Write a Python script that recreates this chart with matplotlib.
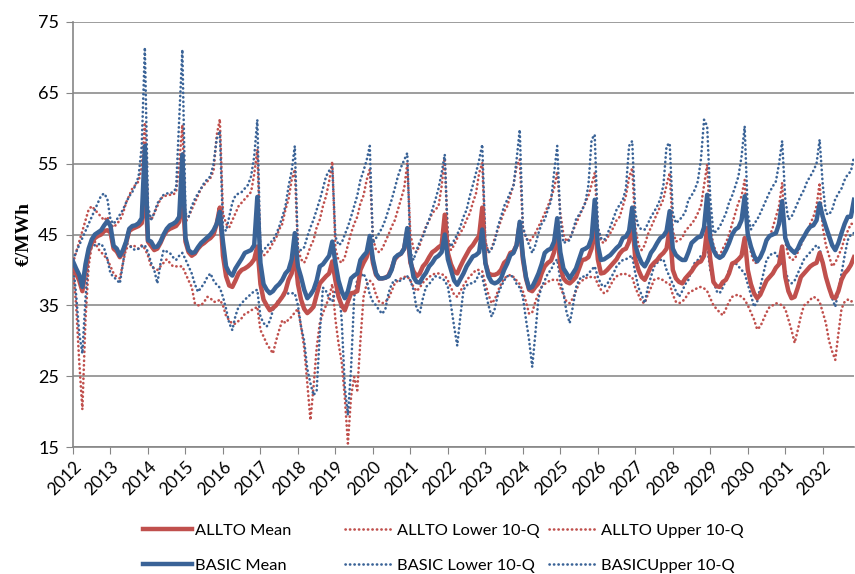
import matplotlib
matplotlib.use("Agg")
import matplotlib.pyplot as plt

# monthly values, Jan 2012 .. Nov 2032 (one row per year)
allto_mean = [
    40.5, 39.5, 38.5, 37.0, 40.0, 42.5, 43.8, 44.5, 44.8, 45.0, 45.5, 45.6,
    45.3, 43.0, 42.6, 41.8, 42.5, 43.8, 45.5, 45.8, 46.0, 46.2, 46.6, 52.0,
    44.0, 43.4, 42.8, 43.0, 43.8, 44.8, 45.5, 45.8, 46.0, 46.2, 46.8, 51.0,
    44.0, 42.5, 42.0, 42.3, 43.0, 43.5, 43.8, 44.2, 44.5, 45.0, 46.5, 48.8,
    42.0, 39.1, 37.8, 37.6, 38.5, 39.5, 40.0, 40.2, 40.5, 40.9, 41.5, 43.3,
    38.0, 35.8, 35.0, 34.3, 34.6, 35.0, 35.6, 36.2, 37.0, 38.6, 39.5, 42.5,
    38.0, 35.8, 34.5, 33.9, 34.3, 34.8, 36.5, 38.1, 38.6, 39.1, 39.5, 41.2,
    38.5, 36.2, 35.0, 34.3, 35.5, 36.7, 36.8, 37.0, 40.0, 41.0, 41.8, 44.2,
    41.0, 39.3, 38.8, 38.8, 38.9, 39.2, 40.2, 41.5, 42.0, 42.3, 43.0, 45.5,
    41.0, 39.8, 39.1, 39.5, 40.5, 41.0, 41.8, 42.5, 42.8, 43.2, 43.5, 47.8,
    42.4, 40.8, 39.8, 39.5, 40.5, 41.4, 42.2, 43.0, 43.5, 44.2, 44.8, 48.8,
    41.0, 39.5, 39.3, 39.3, 39.5, 40.0, 41.0, 41.4, 42.4, 42.6, 43.5, 46.5,
    41.5, 38.8, 37.2, 37.0, 37.6, 38.1, 39.5, 40.5, 41.0, 41.3, 42.5, 45.7,
    40.5, 38.8, 38.3, 38.1, 38.5, 39.0, 40.2, 41.4, 41.5, 41.8, 43.0, 47.1,
    41.5, 39.5, 39.6, 40.0, 40.5, 41.0, 41.5, 42.3, 42.8, 43.0, 44.0, 47.1,
    41.5, 40.0, 39.0, 38.6, 39.5, 40.5, 41.0, 41.4, 42.0, 42.4, 43.0, 45.9,
    40.0, 38.8, 38.3, 38.1, 38.8, 39.3, 39.8, 40.5, 41.0, 41.2, 42.0, 45.9,
    41.5, 38.3, 37.7, 37.6, 38.3, 38.6, 39.5, 40.9, 41.1, 41.5, 42.0, 44.5,
    40.0, 38.0, 36.7, 36.0, 36.5, 37.5, 38.5, 39.0, 39.5, 40.3, 40.8, 43.3,
    39.0, 37.0, 36.0, 36.2, 37.5, 39.0, 39.5, 40.0, 40.5, 40.8, 41.0, 42.4,
    41.0, 39.0, 37.5, 36.2, 36.0, 37.0, 38.6, 39.5, 40.0, 40.7, 41.8,
]
allto_lower = [
    40.0, 35.0, 27.0, 20.3, 33.0, 40.5, 43.5, 44.0, 43.0, 42.5, 42.0, 41.5,
    40.5, 39.5, 39.0, 38.8, 41.0, 43.0, 43.2, 43.5, 43.3, 43.0, 43.5, 43.0,
    42.0, 40.5, 40.2, 40.0, 40.5, 41.0, 41.5, 41.0, 40.5, 40.5, 40.5, 40.5,
    39.5, 38.5, 37.6, 35.3, 35.0, 35.0, 35.5, 36.2, 36.0, 35.5, 35.5, 35.8,
    35.0, 33.5, 32.9, 32.4, 32.4, 32.8, 33.2, 33.8, 34.0, 34.3, 34.5, 34.8,
    31.5, 30.6, 29.6, 28.9, 28.2, 30.0, 31.5, 32.9, 32.5, 33.0, 33.4, 34.0,
    34.5, 32.0, 29.0, 24.0, 18.8, 23.5, 29.0, 32.5, 33.9, 35.0, 36.2, 38.0,
    33.0, 29.6, 27.0, 22.0, 15.5, 22.1, 24.9, 23.0, 30.0, 36.2, 38.0, 38.5,
    38.0, 36.5, 35.5, 35.3, 35.5, 36.0, 37.0, 38.1, 38.5, 38.8, 39.0, 39.1,
    38.5, 37.6, 37.0, 37.5, 38.2, 38.6, 39.0, 39.3, 39.5, 39.5, 39.4, 39.2,
    38.5, 37.5, 36.5, 36.2, 37.0, 37.8, 38.5, 39.1, 39.5, 40.0, 40.0, 39.8,
    38.0, 36.5, 35.3, 35.8, 37.0, 38.0, 38.8, 39.1, 39.3, 39.0, 38.5, 38.0,
    37.0, 35.5, 33.8, 34.0, 35.5, 36.7, 37.6, 38.0, 38.3, 38.6, 38.6, 38.6,
    37.5, 36.5, 35.5, 35.3, 36.0, 37.0, 38.1, 38.5, 38.8, 39.0, 39.0, 39.0,
    38.0, 37.2, 36.7, 37.0, 37.8, 38.6, 39.1, 39.3, 39.5, 39.4, 39.2, 39.0,
    37.5, 36.5, 35.5, 35.3, 36.5, 37.5, 38.6, 38.8, 38.8, 38.5, 38.2, 38.0,
    36.5, 35.5, 35.3, 35.5, 36.0, 36.7, 37.0, 37.2, 37.5, 37.6, 37.4, 37.0,
    36.0, 35.0, 34.5, 34.0, 33.6, 34.5, 35.5, 36.2, 36.4, 36.5, 36.2, 35.8,
    35.0, 34.0, 33.0, 31.6, 32.0, 33.0, 34.0, 34.8, 35.0, 35.3, 35.2, 35.0,
    34.5, 33.0, 31.5, 29.7, 31.5, 33.5, 35.0, 35.3, 35.8, 36.2, 36.0, 35.5,
    34.0, 32.5, 30.0, 28.5, 27.3, 31.0, 34.5, 35.5, 35.8, 35.5, 35.8,
]
allto_upper = [
    41.0, 42.5, 44.0, 45.5, 47.0, 48.5, 49.0, 48.5, 48.0, 47.5, 47.0, 47.5,
    46.5, 46.0, 46.5, 47.0, 48.0, 49.5, 50.5, 51.5, 52.0, 52.5, 54.5, 60.8,
    48.0, 47.0, 48.0, 49.0, 50.0, 50.4, 50.5, 50.6, 50.6, 51.0, 55.0, 60.5,
    46.7, 47.5, 48.5, 49.5, 50.5, 51.5, 52.0, 52.5, 53.0, 54.0, 59.0, 61.3,
    48.0, 46.5, 46.0, 47.0, 48.0, 49.0, 49.5, 50.0, 50.5, 51.0, 53.5, 57.0,
    42.5, 42.0, 42.4, 43.0, 43.8, 44.5, 45.7, 46.5, 48.5, 50.0, 52.7, 54.2,
    43.0, 41.5, 41.0, 42.0, 43.3, 44.2, 46.0, 47.1, 49.0, 50.4, 52.5, 55.3,
    43.0, 41.4, 41.0, 41.8, 43.5, 45.2, 46.5, 47.5, 49.4, 50.5, 52.7, 54.2,
    44.5, 42.8, 42.5, 43.0, 44.0, 45.0, 46.1, 47.0, 48.5, 50.0, 51.5, 55.0,
    45.0, 43.0, 42.5, 43.5, 45.0, 46.1, 47.0, 48.0, 48.5, 49.0, 51.8, 55.8,
    44.5, 42.8, 43.5, 44.5, 45.2, 46.0, 47.1, 48.0, 49.5, 50.8, 53.7, 55.1,
    44.0, 42.5, 43.0, 44.5, 45.7, 47.0, 48.2, 49.0, 50.5, 52.0, 54.6, 55.6,
    46.0, 44.5, 44.0, 44.5, 45.2, 46.1, 47.0, 48.0, 49.0, 50.2, 51.5, 53.9,
    48.0, 45.0, 44.0, 44.5, 45.5, 46.5, 47.5, 48.5, 49.5, 50.5, 52.0, 53.7,
    46.0, 44.0, 43.8, 44.5, 45.2, 46.0, 47.0, 47.5, 49.0, 50.5, 53.0, 54.4,
    46.0, 43.5, 42.8, 43.5, 45.0, 46.0, 47.0, 48.0, 49.0, 50.0, 52.0, 53.7,
    45.5, 44.0, 44.2, 44.5, 45.5, 46.0, 46.5, 47.1, 48.0, 49.0, 52.0, 54.9,
    46.0, 43.5, 42.4, 42.0, 43.0, 43.8, 45.0, 46.5, 48.0, 49.5, 50.4, 52.7,
    45.0, 42.5, 41.0, 41.0, 42.0, 43.0, 44.0, 44.7, 46.0, 47.5, 49.0, 52.3,
    44.0, 42.0, 41.4, 41.5, 42.5, 43.5, 44.5, 45.5, 46.5, 47.5, 49.0, 52.3,
    46.0, 43.5, 42.0, 40.5, 41.0, 42.0, 43.0, 44.5, 45.5, 46.5, 46.5,
]
basic_mean = [
    41.2, 40.2, 39.3, 37.6, 40.8, 43.0, 44.3, 45.0, 45.3, 45.6, 46.3, 46.9,
    46.2, 43.4, 43.0, 42.0, 42.8, 44.0, 45.8, 46.2, 46.3, 46.6, 47.3, 57.5,
    44.2, 44.0, 43.2, 43.3, 44.0, 45.0, 45.8, 46.3, 46.5, 46.8, 47.5, 56.3,
    44.5, 42.8, 42.4, 42.5, 43.2, 43.8, 44.2, 44.6, 45.0, 45.6, 46.5, 48.2,
    44.0, 40.5, 39.6, 39.2, 40.2, 40.9, 41.6, 42.4, 42.6, 42.8, 43.5, 50.3,
    41.0, 38.0, 37.2, 36.7, 37.0, 37.6, 38.0, 38.6, 39.5, 40.0, 41.5, 45.2,
    40.5, 39.0, 37.2, 36.0, 36.5, 37.2, 38.5, 40.5, 40.8, 41.4, 42.0, 44.0,
    41.0, 38.5, 37.0, 36.0, 37.0, 38.8, 39.2, 39.5, 41.4, 42.0, 42.5, 44.8,
    41.5, 39.5, 38.8, 38.8, 38.9, 39.1, 40.0, 41.7, 42.1, 42.3, 43.0, 45.9,
    41.5, 39.0, 38.3, 38.2, 39.0, 39.6, 40.5, 41.0, 41.7, 42.0, 42.5, 45.0,
    41.5, 40.0, 38.5, 37.9, 38.7, 39.5, 40.5, 41.2, 41.9, 42.1, 42.5, 45.7,
    41.0, 39.1, 38.3, 38.1, 38.3, 38.8, 40.0, 40.9, 42.1, 42.4, 43.5, 46.8,
    42.0, 39.0, 37.4, 37.6, 38.5, 39.5, 40.8, 42.4, 42.8, 43.0, 44.0, 47.3,
    42.5, 40.2, 39.5, 38.8, 39.5, 40.2, 41.5, 42.8, 43.0, 43.3, 44.5, 49.9,
    43.5, 41.4, 41.5, 41.8, 42.1, 42.6, 43.1, 43.5, 44.5, 44.7, 45.5, 48.8,
    43.5, 42.0, 41.0, 40.5, 41.3, 42.4, 43.0, 43.8, 44.5, 44.8, 45.5, 48.3,
    43.0, 42.1, 41.7, 41.4, 41.4, 42.5, 43.8, 44.2, 44.6, 44.7, 46.0, 50.6,
    44.5, 42.8, 42.0, 41.7, 42.0, 42.8, 43.8, 45.0, 45.7, 46.0, 47.0, 50.4,
    45.0, 43.3, 42.0, 41.2, 41.8, 42.8, 44.2, 44.8, 45.0, 45.2, 46.5, 49.7,
    44.5, 43.3, 42.8, 42.4, 43.0, 44.0, 44.7, 45.5, 46.1, 46.3, 47.0, 49.4,
    47.5, 46.1, 44.8, 43.5, 42.8, 43.8, 45.2, 46.5, 47.5, 47.5, 49.9,
]
basic_lower = [
    41.0, 36.5, 31.0, 28.2, 36.0, 42.0, 43.3, 43.5, 43.6, 43.7, 43.0, 41.5,
    39.5, 39.0, 38.6, 38.1, 41.0, 43.8, 43.5, 43.0, 42.8, 43.0, 43.3, 43.5,
    42.5, 41.0, 40.0, 38.1, 40.9, 42.8, 42.6, 42.4, 41.8, 41.4, 42.0, 42.4,
    41.5, 40.5, 39.5, 38.0, 36.9, 37.5, 38.1, 39.0, 39.5, 38.5, 37.9, 37.5,
    36.2, 34.5, 32.5, 31.5, 33.5, 34.8, 35.3, 35.8, 36.2, 36.6, 37.0, 37.2,
    33.4, 32.5, 32.0, 32.8, 34.3, 35.3, 35.8, 36.2, 36.5, 36.7, 36.7, 36.7,
    35.0, 32.0, 30.0, 26.0, 24.0, 22.3, 23.0, 31.0, 37.5, 37.0, 36.0, 35.5,
    37.0, 38.0, 33.0, 23.5, 19.5, 26.0, 36.2, 38.6, 39.0, 39.5, 38.5, 36.5,
    35.5, 35.0, 34.3, 33.8, 34.5, 36.7, 38.0, 38.6, 38.4, 38.5, 38.8, 39.1,
    38.5, 37.2, 34.5, 33.9, 36.0, 37.6, 38.0, 38.6, 39.1, 39.0, 38.8, 38.5,
    37.6, 35.0, 32.0, 29.3, 33.5, 37.2, 37.8, 38.1, 38.1, 38.5, 39.5, 39.0,
    37.0, 35.0, 33.4, 34.5, 36.5, 37.6, 38.5, 39.1, 39.2, 39.0, 38.0, 37.5,
    36.2, 33.0, 30.1, 26.3, 31.0, 36.0, 37.6, 38.5, 39.5, 40.0, 41.0, 41.5,
    38.5, 36.7, 34.0, 32.5, 34.8, 37.5, 38.6, 39.1, 39.0, 39.5, 40.0, 40.5,
    39.0, 38.0, 37.6, 38.0, 38.8, 39.5, 40.5, 41.0, 41.4, 41.5, 41.8, 42.0,
    39.5, 37.5, 36.5, 35.3, 37.5, 39.0, 40.5, 41.0, 41.4, 41.5, 40.0, 39.0,
    38.0, 37.0, 36.2, 37.0, 38.0, 38.6, 40.0, 41.0, 41.4, 42.0, 42.5, 43.3,
    40.0, 38.6, 37.0, 36.7, 37.5, 38.6, 40.0, 40.9, 41.0, 40.5, 40.0, 39.5,
    38.0, 36.5, 34.8, 35.5, 37.6, 39.5, 41.4, 42.0, 42.4, 42.4, 41.5, 40.9,
    40.0, 38.5, 38.1, 38.5, 39.5, 40.5, 41.5, 42.0, 42.5, 43.0, 43.5, 43.0,
    41.0, 39.1, 37.5, 36.0, 34.8, 37.0, 39.5, 42.0, 44.2, 45.0, 45.2,
]
basic_upper = [
    41.5, 42.5, 43.5, 44.5, 45.5, 46.5, 47.5, 48.5, 49.5, 50.5, 50.8, 50.0,
    47.1, 46.5, 47.1, 47.8, 48.5, 49.5, 50.4, 51.0, 52.0, 53.2, 57.5, 71.4,
    49.0, 47.1, 48.0, 49.4, 50.0, 50.6, 50.8, 50.8, 51.0, 51.5, 61.2, 71.1,
    48.0, 47.5, 49.0, 50.0, 50.8, 51.5, 52.3, 52.8, 53.2, 55.0, 58.5, 59.6,
    46.0, 45.5, 47.5, 49.5, 50.5, 50.8, 51.0, 51.5, 52.0, 53.2, 56.0, 61.2,
    42.4, 42.8, 43.3, 43.8, 44.2, 45.0, 46.1, 47.5, 49.0, 51.8, 54.0, 57.5,
    42.8, 42.8, 43.2, 44.7, 46.0, 47.1, 48.5, 49.9, 51.5, 53.2, 54.0, 54.5,
    44.7, 43.5, 43.8, 45.0, 46.1, 47.5, 49.0, 50.5, 52.7, 54.0, 55.5, 57.5,
    43.8, 44.5, 45.2, 46.0, 47.1, 48.5, 49.9, 51.5, 53.2, 54.5, 55.5, 56.5,
    42.5, 41.4, 42.8, 44.0, 44.7, 46.0, 47.1, 48.5, 49.9, 51.5, 53.7, 56.3,
    44.0, 43.3, 44.2, 45.0, 46.1, 47.5, 48.5, 50.4, 52.0, 53.7, 55.5, 57.7,
    44.0, 42.4, 43.0, 44.0, 46.1, 47.5, 49.0, 49.9, 51.0, 51.8, 55.6, 59.8,
    46.0, 44.7, 43.5, 42.4, 43.5, 45.2, 46.5, 47.1, 48.5, 49.7, 53.7, 57.5,
    47.0, 43.8, 44.0, 44.2, 45.5, 47.1, 47.8, 48.5, 49.5, 52.0, 58.4, 59.1,
    46.0, 44.5, 44.2, 45.0, 46.1, 47.3, 48.5, 49.2, 49.9, 51.5, 57.5, 58.2,
    48.0, 46.1, 45.7, 45.7, 46.5, 47.5, 48.2, 49.0, 50.0, 52.0, 57.5, 57.9,
    48.0, 46.6, 47.0, 47.5, 48.2, 49.9, 50.5, 51.3, 52.5, 55.6, 61.2, 60.3,
    50.0, 45.2, 45.5, 46.1, 47.0, 48.0, 49.5, 50.5, 51.8, 53.2, 56.0, 60.3,
    48.0, 45.7, 46.5, 47.1, 48.0, 49.0, 50.0, 51.0, 51.8, 52.5, 55.0, 58.2,
    50.0, 47.1, 47.5, 48.5, 49.5, 50.5, 51.3, 52.5, 53.2, 54.0, 55.0, 58.4,
    52.0, 48.0, 47.8, 48.5, 50.0, 50.8, 51.5, 52.7, 53.5, 53.9, 56.0,
]
years = list(range(2012, 2033))

red = "#C0504D"
blue = "#3A6397"
dots = (0, (0.1, 1.6))

plt.rcParams["font.family"] = ["Lato", "DejaVu Sans"]

fig = plt.figure(figsize=(8.55, 5.74), dpi=100)
ax = fig.add_axes([73 / 855, 1 - 447 / 574, 781 / 855, 425 / 574])

months = list(range(len(basic_mean)))
l1, = ax.plot(months, allto_mean, color=red, lw=3.2, label="ALLTO Mean", zorder=4)
l2, = ax.plot(months, allto_lower, color=red, lw=1.9, ls=dots, dash_capstyle="round",
              label="ALLTO Lower 10-Q", zorder=3)
l3, = ax.plot(months, allto_upper, color=red, lw=1.9, ls=dots, dash_capstyle="round",
              label="ALLTO Upper 10-Q", zorder=3)
l4, = ax.plot(months, basic_mean, color=blue, lw=3.2, label="BASIC Mean", zorder=5)
l5, = ax.plot(months, basic_lower, color=blue, lw=1.9, ls=dots, dash_capstyle="round",
              label="BASIC Lower 10-Q", zorder=3)
l6, = ax.plot(months, basic_upper, color=blue, lw=1.9, ls=dots, dash_capstyle="round",
              label="BASICUpper 10-Q", zorder=3)

ax.set_xlim(0, 250)
ax.set_ylim(15, 75)
ax.set_yticks(range(15, 76, 10))
ax.set_xticks([12 * i for i in range(len(years))])
ax.set_xticklabels([str(y) for y in years], rotation=45, ha="right",
                   rotation_mode="anchor", fontsize=12.5)
ax.tick_params(axis="y", labelsize=13, length=5, color="#868686", pad=5)
ax.tick_params(axis="x", length=5, color="#868686", pad=3)
ax.grid(axis="y", color="#8C8C8C", lw=1.2)
ax.set_axisbelow(True)
for side in ["top", "right"]:
    ax.spines[side].set_visible(False)
for side in ["left", "bottom"]:
    ax.spines[side].set_color("#868686")
    ax.spines[side].set_linewidth(1.2)

ax.set_ylabel("€/MWh", fontsize=14, fontweight="bold", family="Liberation Serif",
              labelpad=4)

# legend: three columns, each placed where the reference has it
legend_font = {"family": ["Liberation Sans Narrow", "Lato"], "size": 11.8}
columns = [((l1, l4), ("ALLTO Mean", "BASIC Mean"), 143),
           ((l2, l5), ("ALLTO Lower 10-Q", "BASIC Lower 10-Q"), 345),
           ((l3, l6), ("ALLTO Upper 10-Q", "BASICUpper 10-Q"), 549)]
for handles, labels, x0 in columns:
    leg = fig.legend(handles, labels, loc="center left",
                     bbox_to_anchor=(x0 / 855, 1 - 548 / 574), frameon=False,
                     prop=legend_font, handlelength=3.0, handletextpad=0.2,
                     labelspacing=1.25, borderpad=0, borderaxespad=0)

fig.savefig("out.png", dpi=100)
